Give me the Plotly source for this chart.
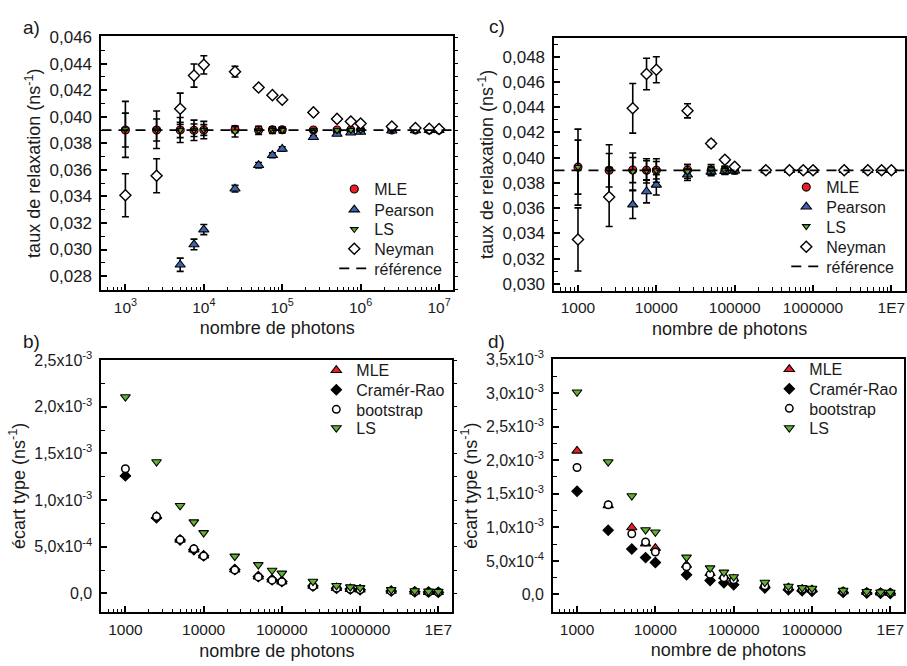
import numpy as np
import plotly.graph_objects as go

# ---------------------------------------------------------------- data
photons = [1e3, 2.5e3, 5e3, 7.5e3, 1e4, 2.5e4, 5e4, 7.5e4, 1e5,
           2.5e5, 5e5, 7.5e5, 1e6, 2.5e6, 5e6, 7.5e6, 1e7]
reference_rate = 0.039

# a) fitted relaxation rates (ns^-1), first data set
a_mle = [0.03900, 0.03900, 0.03900, 0.03898, 0.03900, 0.03905, 0.03900, 0.03902, 0.03902,
         0.03900, 0.03900, 0.03900, 0.03900, 0.03900, 0.03900, 0.03900, 0.03900]
a_pearson = [None, None, 0.02885, 0.03038, 0.03150, 0.03458, 0.03635, 0.03710, 0.03757,
             0.03846, 0.03870, 0.03880, 0.03885, 0.03895, 0.03897, 0.03898, 0.03898]
a_pearson_err = [None, None, 0.00050, 0.00040, 0.00038, 0.00025, 0.00020, 0.00018, 0.00016,
                 0.00012, 0.00009, 0.00008, 0.00007, 0.00005, 0.00004, 0.00003, 0.00003]
a_ls = [0.03905, 0.03902, 0.03900, 0.03898, 0.03900, 0.03888, 0.03898, 0.03900, 0.03900,
        0.03898, 0.03898, 0.03900, 0.03900, 0.03900, 0.03900, 0.03900, 0.03900]
a_neyman = [0.03409, 0.03556, 0.04060, 0.04310, 0.04391, 0.04340, 0.04220, 0.04163, 0.04128,
            0.04033, 0.03984, 0.03964, 0.03949, 0.03927, 0.03915, 0.03910, 0.03908]
a_neyman_err = [0.00162, 0.00128, 0.00118, 0.00087, 0.00069, 0.00040, 0.00018, 0.00015, 0.00013,
                0.00010, 0.00007, 0.00006, 0.00005, 0.00003, 0.00002, 0.00002, 0.00002]

# b) standard deviations (ns^-1), first data set
b_mle = [1.277e-3, 0.830e-3, 0.575e-3, 0.470e-3, 0.405e-3, 0.255e-3, 0.180e-3, 0.147e-3, 0.127e-3,
         0.080e-3, 0.057e-3, 0.047e-3, 0.040e-3, 0.026e-3, 0.018e-3, 0.015e-3, 0.013e-3]
b_cramer_rao = [1.260e-3, 0.810e-3, 0.573e-3, 0.468e-3, 0.405e-3, 0.256e-3, 0.181e-3, 0.148e-3, 0.128e-3,
                0.081e-3, 0.057e-3, 0.047e-3, 0.040e-3, 0.026e-3, 0.018e-3, 0.015e-3, 0.013e-3]
b_bootstrap = [1.336e-3, 0.825e-3, 0.577e-3, 0.479e-3, 0.402e-3, 0.252e-3, 0.178e-3, 0.143e-3, 0.126e-3,
               0.077e-3, 0.055e-3, 0.045e-3, 0.040e-3, 0.025e-3, 0.018e-3, 0.015e-3, 0.013e-3]
b_ls = [2.106e-3, 1.410e-3, 0.941e-3, 0.766e-3, 0.651e-3, 0.399e-3, 0.308e-3, 0.248e-3, 0.217e-3,
        0.129e-3, 0.085e-3, 0.070e-3, 0.062e-3, 0.040e-3, 0.028e-3, 0.024e-3, 0.021e-3]

# c) fitted relaxation rates (ns^-1), second data set
c_mle = [0.03925, 0.03900, 0.03902, 0.03900, 0.03900, 0.03902, 0.03898, 0.03900, 0.03900,
         0.03900, 0.03900, 0.03900, 0.03900, 0.03900, 0.03900, 0.03900, 0.03900]
c_pearson = [None, None, 0.03628, 0.03732, 0.03784, 0.03864, 0.03887, 0.03893, 0.03896,
             0.03898, 0.03900, 0.03900, 0.03900, 0.03900, 0.03900, 0.03900, 0.03900]
c_pearson_err = [None, None, 0.00110, 0.00090, 0.00080, 0.00045, 0.00030, 0.00025, 0.00022,
                 0.00014, 0.00010, 0.00008, 0.00007, 0.00005, 0.00004, 0.00003, 0.00003]
c_ls = [0.03925, 0.03905, 0.03890, 0.03895, 0.03898, 0.03890, 0.03905, 0.03900, 0.03900,
        0.03900, 0.03900, 0.03900, 0.03900, 0.03900, 0.03900, 0.03900, 0.03900]
c_neyman = [0.03352, 0.03688, 0.04391, 0.04663, 0.04696, 0.04371, 0.04112, 0.03983, 0.03928,
            0.03900, 0.03900, 0.03900, 0.03900, 0.03900, 0.03900, 0.03900, 0.03900]
c_neyman_err = [0.00250, 0.00233, 0.00197, 0.00125, 0.00103, 0.00056, 0.00025, 0.00020, 0.00018,
                0.00012, 0.00008, 0.00007, 0.00006, 0.00004, 0.00003, 0.00002, 0.00002]

# d) standard deviations (ns^-1), second data set
d_mle = [2.139e-3, 1.327e-3, 0.997e-3, 0.758e-3, 0.690e-3, 0.438e-3, 0.316e-3, 0.270e-3, 0.233e-3,
         0.140e-3, 0.100e-3, 0.080e-3, 0.070e-3, 0.045e-3, 0.032e-3, 0.026e-3, 0.022e-3]
d_cramer_rao = [1.536e-3, 0.958e-3, 0.676e-3, 0.549e-3, 0.476e-3, 0.292e-3, 0.209e-3, 0.175e-3, 0.146e-3,
                0.097e-3, 0.069e-3, 0.056e-3, 0.049e-3, 0.031e-3, 0.022e-3, 0.018e-3, 0.015e-3]
d_bootstrap = [1.891e-3, 1.337e-3, 0.904e-3, 0.783e-3, 0.632e-3, 0.413e-3, 0.300e-3, 0.250e-3, 0.220e-3,
               0.130e-3, 0.095e-3, 0.078e-3, 0.068e-3, 0.043e-3, 0.030e-3, 0.025e-3, 0.021e-3]
d_ls = [3.014e-3, 1.974e-3, 1.468e-3, 0.963e-3, 0.929e-3, 0.554e-3, 0.394e-3, 0.331e-3, 0.263e-3,
        0.180e-3, 0.120e-3, 0.100e-3, 0.090e-3, 0.060e-3, 0.043e-3, 0.035e-3, 0.030e-3]

# tick labels
x_ticks = [1e3, 1e4, 1e5, 1e6, 1e7]
x_labels_power = ["10<sup>3</sup>", "10<sup>4</sup>", "10<sup>5</sup>", "10<sup>6</sup>", "10<sup>7</sup>"]
x_labels_plain = ["1000", "10000", "100000", "1000000", "1E7"]
a_yticks = [0.028, 0.030, 0.032, 0.034, 0.036, 0.038, 0.040, 0.042, 0.044, 0.046]
c_yticks = [0.030, 0.032, 0.034, 0.036, 0.038, 0.040, 0.042, 0.044, 0.046, 0.048]
b_yticks = [0.0, 0.5e-3, 1.0e-3, 1.5e-3, 2.0e-3, 2.5e-3]
d_yticks = [0.0, 0.5e-3, 1.0e-3, 1.5e-3, 2.0e-3, 2.5e-3, 3.0e-3, 3.5e-3]
std_labels = ["0,0", "5,0x10<sup>-4</sup>", "1,0x10<sup>-3</sup>", "1,5x10<sup>-3</sup>",
              "2,0x10<sup>-3</sup>", "2,5x10<sup>-3</sup>", "3,0x10<sup>-3</sup>", "3,5x10<sup>-3</sup>"]

# ---------------------------------------------------------------- style
W, H = 907, 666
FONT = "Liberation Sans, Arial, sans-serif"
TXT = "#1a1a1a"
RED = "#ee1c24"
BLUE = "#3d62ae"
GREEN = "#62b22f"
OUTLINE = dict(color="black", width=1.1)


def fx(px):
    return px / W


def fy(py):
    return 1 - py / H


def errbar(vals):
    return dict(type="data", array=vals, visible=True, color="black", thickness=1.6, width=3.5)


fig = go.Figure()
legends = {}          # one single-entry legend per key, placed by pixel position
legend_counter = [0]


def new_legend(x_px, y_px):
    legend_counter[0] += 1
    key = "legend" if legend_counter[0] == 1 else f"legend{legend_counter[0]}"
    legends[key] = dict(x=fx(x_px), y=fy(y_px - 4), xanchor="left", yanchor="middle",
                        bgcolor="rgba(0,0,0,0)", borderwidth=0,
                        font=dict(family=FONT, size=16, color=TXT))
    return key


def rate_panel(n, leg_x, leg_y, mle, ls, mle_err, ls_err, pearson, pearson_err, neyman, neyman_err, xrange_log):
    xa, ya = (f"x{n}", f"y{n}") if n > 1 else ("x", "y")
    fig.add_trace(go.Scatter(x=photons, y=mle, mode="markers", name="MLE",
                             legend=new_legend(leg_x, leg_y[0]),
                             xaxis=xa, yaxis=ya, error_y=errbar(mle_err),
                             marker=dict(symbol="circle", size=8, color=RED, line=OUTLINE)))
    fig.add_trace(go.Scatter(x=photons, y=pearson, mode="markers", name="Pearson",
                             legend=new_legend(leg_x, leg_y[1]),
                             xaxis=xa, yaxis=ya, error_y=errbar(pearson_err),
                             marker=dict(symbol="triangle-up", size=9, color=BLUE, line=OUTLINE)))
    fig.add_trace(go.Scatter(x=photons, y=ls, mode="markers", name="LS",
                             legend=new_legend(leg_x, leg_y[2]),
                             xaxis=xa, yaxis=ya, error_y=errbar(ls_err),
                             marker=dict(symbol="triangle-down", size=6.5, color=GREEN, line=OUTLINE)))
    fig.add_trace(go.Scatter(x=photons, y=neyman, mode="markers", name="Neyman",
                             legend=new_legend(leg_x, leg_y[3]),
                             xaxis=xa, yaxis=ya, error_y=errbar(neyman_err),
                             marker=dict(symbol="diamond", size=8.5, color="white",
                                         line=dict(color="black", width=1.4))))
    fig.add_trace(go.Scatter(x=[10 ** xrange_log[0], 10 ** xrange_log[1]],
                             y=[reference_rate, reference_rate], mode="lines", name="référence",
                             legend=new_legend(leg_x, leg_y[4]), xaxis=xa, yaxis=ya, cliponaxis=True,
                             line=dict(color="black", width=1.8, dash="10px,7px")))


def std_panel(n, leg_x, leg_y, mle, cr, boot, ls):
    xa, ya = f"x{n}", f"y{n}"
    fig.add_trace(go.Scatter(x=photons, y=mle, mode="markers", name="MLE",
                             legend=new_legend(leg_x, leg_y[0]), xaxis=xa, yaxis=ya,
                             marker=dict(symbol="triangle-up", size=9, color=RED, line=OUTLINE)))
    fig.add_trace(go.Scatter(x=photons, y=cr, mode="markers", name="Cramér-Rao",
                             legend=new_legend(leg_x, leg_y[1]), xaxis=xa, yaxis=ya,
                             marker=dict(symbol="diamond", size=8, color="black", line=OUTLINE)))
    fig.add_trace(go.Scatter(x=photons, y=boot, mode="markers", name="bootstrap",
                             legend=new_legend(leg_x, leg_y[2]), xaxis=xa, yaxis=ya,
                             marker=dict(symbol="circle", size=7.5, color="white",
                                         line=dict(color="black", width=1.5))))
    fig.add_trace(go.Scatter(x=photons, y=ls, mode="markers", name="LS",
                             legend=new_legend(leg_x, leg_y[3]), xaxis=xa, yaxis=ya,
                             marker=dict(symbol="triangle-down", size=8.5, color=GREEN, line=OUTLINE)))


XR_A = [2.695, 7.178]
XR_C = [2.700, 7.170]
XR_B = [2.694, 7.179]
XR_D = [2.694, 7.171]
YR_A = [0.02695, 0.04605]
YR_C = [0.02946, 0.04947]
YR_B = [-0.2025e-3, 2.507e-3]
YR_D = [-0.2625e-3, 3.504e-3]

rate_panel(1, 335, [186, 207, 227, 247, 267], a_mle, a_ls, b_mle, b_ls,
           a_pearson, a_pearson_err, a_neyman, a_neyman_err, XR_A)
rate_panel(2, 788, [184, 204, 224, 245, 265], c_mle, c_ls, d_mle, d_ls,
           c_pearson, c_pearson_err, c_neyman, c_neyman_err, XR_C)
std_panel(3, 317, [371, 391, 411, 430], b_mle, b_cramer_rao, b_bootstrap, b_ls)
std_panel(4, 771, [370, 390, 410, 430], d_mle, d_cramer_rao, d_bootstrap, d_ls)

# empty traces carrying the outward tick marks of the right-hand frame of a) and b)
for ya, xa in (("y5", "x"), ("y6", "x3")):
    fig.add_trace(go.Scatter(x=[], y=[], xaxis=xa, yaxis=ya, showlegend=False, hoverinfo="skip"))

minor_x = [k * 10.0 ** e for e in range(2, 8) for k in range(2, 10)]
xtickfont = dict(family=FONT, size=15.5, color=TXT)
titlefont = dict(family=FONT, size=18, color=TXT)


def xaxis(domain, rng, anchor, labels):
    return dict(type="log", domain=domain, range=rng, anchor=anchor,
                tickmode="array", tickvals=x_ticks, ticktext=labels,
                ticks="inside", ticklen=6, tickwidth=1.5, tickcolor="black",
                minor=dict(tickvals=minor_x, ticks="inside", ticklen=3.5, tickwidth=1.2, tickcolor="black"),
                showline=True, linewidth=2, linecolor="black", mirror=True,
                showgrid=False, zeroline=False, tickfont=xtickfont, ticklabelstandoff=2,
                title=dict(text="nombre de photons", font=titlefont, standoff=7))


def yaxis(domain, rng, anchor, vals, labels, minor_step, title, label_size):
    return dict(domain=domain, range=rng, anchor=anchor,
                tickmode="array", tickvals=vals, ticktext=labels,
                ticks="inside", ticklen=6, tickwidth=1.5, tickcolor="black",
                minor=dict(dtick=minor_step, tick0=0, ticks="inside", ticklen=3.5,
                           tickwidth=1.2, tickcolor="black"),
                showline=True, linewidth=2, linecolor="black", mirror=True,
                showgrid=False, zeroline=False,
                tickfont=dict(family=FONT, size=label_size, color=TXT), ticklabelstandoff=4,
                title=dict(text=title, font=titlefont, standoff=4))


def right_ticks(base, anchor, rng, step):
    return dict(overlaying=base, anchor=anchor, side="right", range=rng,
                tickmode="linear", tick0=0, dtick=step, ticks="outside", ticklen=4,
                tickwidth=1.2, tickcolor="black", showticklabels=False,
                showline=False, showgrid=False, zeroline=False)


rate_title = "taux de relaxation (ns<sup>-1</sup>)"
std_title = "écart type (ns<sup>-1</sup>)"

fig.update_layout(
    width=W, height=H, margin=dict(l=0, r=0, t=0, b=0),
    paper_bgcolor="white", plot_bgcolor="white",
    font=dict(family=FONT, color=TXT),
    xaxis=xaxis([fx(101.7), fx(454)], XR_A, "y", x_labels_power),
    yaxis=yaxis([fy(285), fy(26)], YR_A, "x", a_yticks,
                [f"{v:.3f}".replace(".", ",") for v in a_yticks], 0.001, rate_title, 17),
    xaxis2=xaxis([fx(555.7), fx(906.7)], XR_C, "y2", x_labels_plain),
    yaxis2=yaxis([fy(285.7), fy(27.7)], YR_C, "x2", c_yticks,
                 [f"{v:.3f}".replace(".", ",") for v in c_yticks], 0.001, rate_title, 17),
    xaxis3=xaxis([fx(101.7), fx(453.3)], XR_B, "y3", x_labels_plain),
    yaxis3=yaxis([fy(614.3), fy(356)], YR_B, "x3", b_yticks,
                 std_labels[:len(b_yticks)], 0.25e-3, std_title, 16),
    xaxis4=xaxis([fx(554.3), fx(905.7)], XR_D, "y4", x_labels_plain),
    yaxis4=yaxis([fy(614), fy(355.7)], YR_D, "x4", d_yticks,
                 std_labels[:len(d_yticks)], 0.25e-3, std_title, 16),
    yaxis5=right_ticks("y", "x", YR_A, 0.001),
    yaxis6=right_ticks("y3", "x3", YR_B, 0.25e-3),
    showlegend=True,
)
fig.update_layout(**legends)

for label, x, y in [("a)", 32, 17), ("c)", 498, 16), ("b)", 32, 338), ("d)", 498, 338)]:
    fig.add_annotation(text=label, x=fx(x), y=fy(y), xref="paper", yref="paper",
                       showarrow=False, xanchor="center", yanchor="middle",
                       font=dict(family=FONT, size=19, color=TXT))

fig.write_html("out.html")
